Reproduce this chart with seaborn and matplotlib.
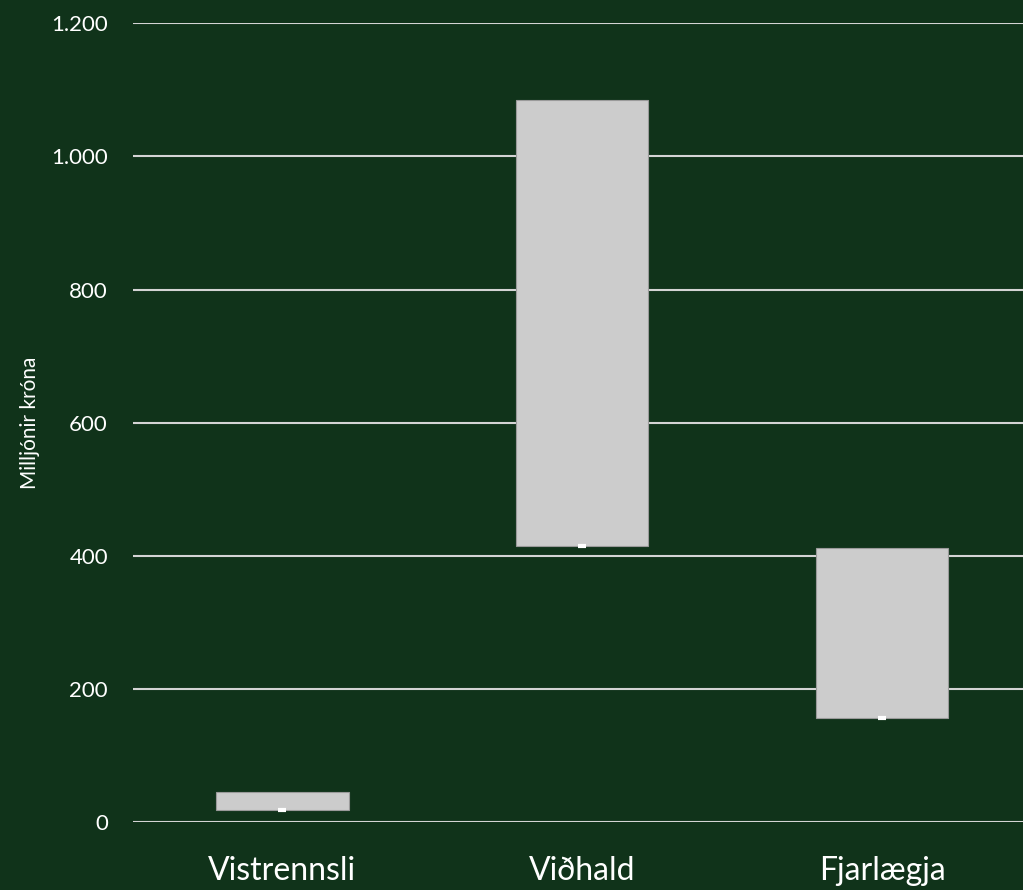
import matplotlib
matplotlib.use("Agg")
import matplotlib.pyplot as plt
import seaborn as sns
import pandas as pd
from matplotlib.ticker import FuncFormatter

categories = ["Vistrennsli", "Viðhald", "Fjarlægja"]
low_values = [18, 415, 157]
high_values = [45, 1084, 412]
y_ticks = [0, 200, 400, 600, 800, 1000, 1200]

BG = "#10331a"
BAR = "#cccccc"

sns.set_theme(style="white")
plt.rcParams["font.family"] = ["Lato", "DejaVu Sans"]

df = pd.DataFrame({
    "category": categories,
    "low": low_values,
    "high": high_values,
})
df["span"] = df["high"] - df["low"]

fig = plt.figure(figsize=(10.23, 8.9), dpi=100, facecolor=BG)
ax = fig.add_axes([0.13, 0.076, 0.87, 0.898])
ax.set_facecolor(BG)

sns.barplot(data=df, x="category", y="span", bottom=df["low"].values, color=BAR,
            width=0.443, saturation=1, edgecolor="#9a9a9a", linewidth=0.8,
            ax=ax, zorder=3)
sns.scatterplot(data=df, x="category", y="low", marker="_", s=40, linewidth=3,
                color="white", ax=ax, zorder=4, legend=False)

ax.set_ylim(0, 1200)
ax.set_xlim(-0.497, 2.47)
ax.set_yticks(y_ticks)
ax.yaxis.set_major_formatter(FuncFormatter(lambda v, p: f"{int(v):,}".replace(",", ".")))
ax.grid(axis="y", color="#d4d4d4", linewidth=1.5, zorder=0)
ax.set_axisbelow(True)
for s in ax.spines.values():
    s.set_visible(False)
ax.tick_params(axis="y", length=0, pad=18, labelsize=16, labelcolor="white")
ax.tick_params(axis="x", length=0, pad=24, labelsize=23, labelcolor="white")
ax.set_xlabel("")
ax.set_ylabel("Milljónir króna", color="white", fontsize=15)
ax.yaxis.set_label_coords(-0.105, 0.5)

fig.savefig("out.png", dpi=100, facecolor=BG)
